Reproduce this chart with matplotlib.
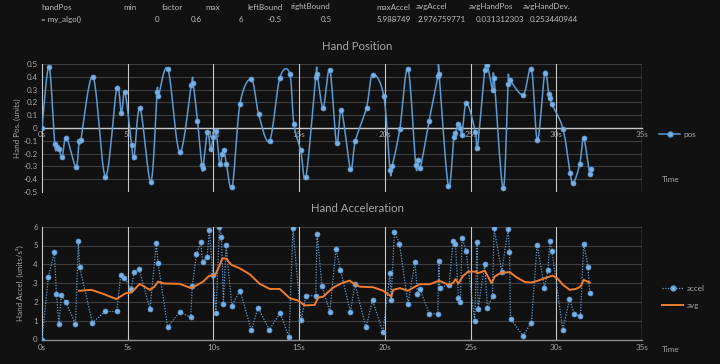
import matplotlib
matplotlib.use('Agg')
import matplotlib.pyplot as plt
import numpy as np
from matplotlib.lines import Line2D

# header cells (spreadsheet row above the charts)
header_names = ['handPos', 'min', 'factor', 'max', 'leftBound', 'rightBound',
                'maxAccel', 'avgAccel', 'avgHandPos', 'avgHandDev.']
header_values = ['= my_algo()', '0', '0.6', '6', '-0.5', '0.5',
                 '5.988749', '2.976759771', '0.031312303', '0.253440944']

# hand position samples (s, units)
pos_t = [0, 0.41, 0.74, 0.88, 0.99, 1.17, 1.42, 1.98, 2.16, 2.26, 2.98, 3.7, 4.36, 4.63, 4.84,
         5.23, 5.37, 5.72, 6.35, 6.71, 6.79, 7.35, 8.03, 8.71, 8.81, 9.07, 9.32, 9.39, 9.65,
         9.84, 9.99, 10.15, 10.37, 10.52, 10.62, 10.76, 11.1, 11.55, 12.22, 12.64, 13.28,
         13.87, 14.45, 14.69, 15.09, 15.4, 15.97, 16.05, 16.4, 16.79, 17.18, 17.47, 17.99,
         18.28, 18.93, 19.28, 19.94, 20.3, 20.42, 20.87, 21.35, 21.8, 21.93, 22.07, 22.58,
         23.1, 23.16, 23.7, 24.02, 24.12, 24.27, 24.41, 24.5, 24.76, 25.28, 25.4, 25.83,
         25.98, 26.28, 26.37, 26.9, 27.19, 27.29, 28.07, 28.55, 28.9, 29.33, 29.55, 29.62,
         29.75, 30.4, 30.8, 31.0, 31.37, 31.6, 31.95, 32.05]
pos_v = [0, 0.48, -0.127, -0.15, -0.165, -0.226, -0.075, -0.305, -0.104, -0.096, 0.40, -0.38,
         0.31, 0.12, 0.28, -0.135, -0.23, 0.157, -0.42, 0.28, 0.25, 0.46, -0.19, 0.335, 0.355,
         0.055, -0.286, -0.31, -0.03, -0.166, -0.07, -0.02, -0.28, -0.205, -0.175, -0.28,
         -0.46, 0.19, 0.38, 0.107, -0.10, 0.39, 0.425, 0.034, -0.174, -0.38, 0.40, 0.42, 0.16,
         0.455, -0.12, 0.138, -0.317, -0.10, 0.16, 0.417, 0.248, -0.33, -0.30, -0.01, 0.464,
         -0.29, -0.25, -0.31, 0.055, 0.405, 0.425, -0.45, -0.07, -0.04, 0.03, 0.003, -0.057,
         0.198, -0.03, -0.153, 0.455, 0.49, 0.30, 0.394, -0.47, 0.347, 0.373, 0.26, 0.464,
         -0.096, 0.433, 0.263, 0.234, 0.185, -0.01, -0.35, -0.43, -0.28, -0.08, -0.36, -0.32]

# hand acceleration samples (s, units/s^2)
acc_t = [0, 0.37, 0.72, 0.84, 0.99, 1.13, 1.4, 1.95, 2.12, 2.2, 2.94, 3.68, 4.36, 4.59, 4.81,
         5.22, 5.37, 5.66, 6.3, 6.67, 6.77, 7.33, 8.03, 8.67, 8.77, 9.01, 9.26, 9.37, 9.63,
         9.77, 9.96, 10.15, 10.35, 10.47, 10.58, 10.74, 11.07, 11.55, 12.22, 12.6, 13.26,
         13.89, 14.41, 14.64, 15.11, 15.4, 15.97, 16.04, 16.34, 16.79, 17.15, 17.41, 17.99,
         18.26, 18.9, 19.28, 19.89, 20.3, 20.36, 20.56, 20.85, 21.35, 21.76, 21.9, 22.05,
         22.58, 23.09, 23.15, 23.19, 23.75, 23.98, 24.12, 24.29, 24.41, 24.5, 24.74, 25.24,
         25.38, 25.44, 25.83, 25.98, 26.28, 26.37, 26.82, 27.19, 27.27, 27.33, 28.06, 28.55,
         28.88, 29.31, 29.52, 29.62, 29.75, 30.38, 30.77, 31.06, 31.41, 31.6, 31.85, 31.95]
acc_v = [0, 3.31, 4.64, 2.44, 0.82, 2.37, 1.97, 0.82, 5.24, 3.84, 0.89, 1.49, 1.49, 3.42, 3.29,
         2.69, 3.61, 3.77, 1.61, 5.12, 4.06, 0.67, 1.46, 1.19, 2.87, 4.55, 5.17, 4.13, 4.38,
         5.83, 3.44, 1.40, 5.97, 5.47, 1.91, 5.03, 1.79, 2.6, 0.48, 1.70, 0.52, 1.40, 0.14,
         5.92, 1.03, 2.34, 2.32, 5.63, 2.82, 1.47, 4.83, 3.69, 1.47, 2.94, 0.64, 2.09, 0.39,
         3.54, 2.09, 5.72, 5.1, 1.90, 4.13, 2.44, 2.69, 1.38, 1.36, 4.16, 2.76, 2.9, 5.24,
         5.08, 2.23, 2.0, 5.42, 4.71, 0.98, 5.2, 1.61, 4.02, 1.70, 2.29, 5.92, 3.61, 5.88,
         4.66, 1.10, 0.21, 0.90, 5.05, 2.76, 3.70, 5.24, 4.71, 0.52, 2.15, 1.33, 1.26, 5.1,
         3.86, 2.46]

# running average of acceleration
avg_t = [2.16, 2.88, 3.56, 4.34, 4.6, 4.88, 5.22, 5.7, 6.28, 6.55, 6.77, 7.1, 8.03, 8.71, 9.4,
         9.74, 10.1, 10.37, 10.52, 10.74, 11.05, 11.53, 12.12, 12.7, 13.28, 13.87, 14.45,
         14.94, 15.33, 15.91, 16.1, 16.4, 16.98, 17.56, 17.95, 18.3, 18.54, 19.31, 19.89,
         20.38, 20.48, 20.87, 21.35, 21.76, 22.04, 22.62, 23.16, 23.75, 24.0, 24.12, 24.29,
         24.56, 24.86, 25.34, 25.4, 25.83, 26.22, 26.41, 26.8, 27.29, 27.68, 28.16, 28.55,
         28.94, 29.33, 29.78, 30.05, 30.4, 30.79, 31.14, 31.41, 31.6, 31.95]
avg_v = [2.59, 2.64, 2.43, 2.15, 2.3, 2.46, 2.5, 2.96, 2.64, 2.8, 3.08, 2.98, 2.96, 2.73, 3.08,
         3.38, 3.43, 3.97, 4.32, 4.3, 3.97, 3.79, 3.47, 2.96, 2.69, 2.69, 2.2, 2.07, 1.81,
         1.84, 2.23, 2.28, 2.76, 3.03, 3.13, 2.9, 2.81, 2.78, 2.6, 2.28, 2.64, 2.73, 2.6, 2.81,
         2.94, 2.94, 3.13, 2.9, 3.03, 3.21, 2.98, 3.38, 3.61, 3.61, 3.52, 3.66, 3.0, 3.35,
         3.56, 3.58, 3.31, 3.06, 3.03, 3.13, 3.26, 3.4, 3.26, 2.9, 2.64, 2.69, 2.81, 3.17, 3.03]

x_ticks = np.arange(0, 36, 5)
x_ticklabels = [f'{t}s' for t in x_ticks]

BG = '#111111'
TXT = '#a6a6a6'
BLUE = '#5b9bd5'
MARK = '#7cb0e2'
ORANGE = '#ed7d31'
HGRID = '#3d3d3d'
VGRID = '#c8c8c8'
FS = 5.8

plt.rcParams['font.family'] = ['Lato', 'DejaVu Sans']


def smooth(x, y, n=12):
    """Catmull-Rom curve through the points, like Excel's smoothed line."""
    p = np.column_stack([x, y]).astype(float)
    p = np.vstack([p[0], p, p[-1]])
    out = []
    s = np.linspace(0, 1, n, endpoint=False)[:, None]
    for i in range(1, len(p) - 2):
        p0, p1, p2, p3 = p[i - 1], p[i], p[i + 1], p[i + 2]
        seg = 0.5 * ((2 * p1) + (-p0 + p2) * s + (2 * p0 - 5 * p1 + 4 * p2 - p3) * s ** 2
                     + (-p0 + 3 * p1 - 3 * p2 + p3) * s ** 3)
        out.append(seg)
    out.append(p[-2][None, :])
    out = np.vstack(out)
    return out[:, 0], out[:, 1]


def style_axes(ax, yticks):
    ax.set_facecolor(BG)
    ax.set_xlim(0, 35)
    ax.set_xticks(x_ticks)
    ax.set_xticklabels(x_ticklabels)
    ax.set_yticks(yticks)
    ax.tick_params(length=0, labelsize=FS, colors=TXT, pad=3)
    for y in yticks:
        ax.axhline(y, color=HGRID, lw=0.8, zorder=0)
    for x in x_ticks[1:-1]:
        ax.axvline(x, color=VGRID, lw=0.8, zorder=0.5)
    ax.axvline(35, color='#808080', lw=1.0, zorder=0.5)
    for side in ['top', 'right']:
        ax.spines[side].set_visible(False)
    ax.spines['left'].set_color(VGRID)
    ax.spines['left'].set_linewidth(0.8)
    ax.spines['bottom'].set_linewidth(1.0)


fig = plt.figure(figsize=(7.2, 3.64), dpi=100, facecolor=BG)
W, H = 720.0, 364.0

# header rows
name_x = [41, 123, 162, 205, 247, 290, 376, 416, 469, 523]
value_x = [41, 155, 191, 239, 268, 321, 377, 418, 476, 530]
for name, xn in zip(header_names, name_x):
    fig.text(xn / W, 1 - 7 / H, name, color='#bdbdbd', fontsize=FS, va='center')
for val, xv in zip(header_values, value_x):
    fig.text(xv / W, 1 - 19 / H, val, color='#bdbdbd', fontsize=FS, va='center')

# --- Hand Position ---
ax1 = fig.add_axes([42 / W, 1 - 192 / H, 600 / W, 128 / H])
style_axes(ax1, np.round(np.arange(-0.5, 0.51, 0.1), 1))
ax1.set_ylim(-0.5, 0.5)
ax1.set_yticklabels(['-0.5', '-0.4', '-0.3', '-0.2', '-0.1', '0', '0.1', '0.2', '0.3', '0.4', '0.5'])
ax1.spines['bottom'].set_position(('data', 0))
ax1.spines['bottom'].set_color(VGRID)
ax1.tick_params(axis='x', pad=2)
sx, sy = smooth(pos_t, pos_v)
ax1.plot(sx, sy, color=BLUE, lw=1.1, zorder=3)
ax1.plot(pos_t, pos_v, ls='none', marker='o', ms=3.6, mfc=MARK, mec=BLUE, mew=0.5, zorder=4)

fig.text(357 / W, 1 - 46 / H, 'Hand Position', color=TXT, fontsize=8.2, ha='center', va='center')
fig.text(17 / W, 1 - 128 / H, 'Hand Pos. (units)', color=TXT, fontsize=FS, rotation=90,
         ha='center', va='center')
fig.text(662 / W, 1 - 179 / H, 'Time', color=TXT, fontsize=FS, va='center')
fig.legend([Line2D([], [], color=BLUE, lw=1.1, marker='o', ms=3.6, mfc=MARK, mec=BLUE)],
           ['pos'], loc='center left', bbox_to_anchor=(652 / W, 1 - 134 / H), frameon=False,
           fontsize=FS, labelcolor=TXT, handlelength=2.6, handletextpad=0.4)

# --- Hand Acceleration ---
ax2 = fig.add_axes([42 / W, 1 - 339.5 / H, 600 / W, 112.8 / H])
style_axes(ax2, np.arange(0, 7, 1))
ax2.set_ylim(0, 6)
ax2.spines['bottom'].set_color('#8c8c8c')
ax2.plot(acc_t, acc_v, color=BLUE, lw=0.9, ls=(0, (1, 1.2)), marker='o', ms=3.6,
         mfc=MARK, mec=BLUE, mew=0.5, zorder=3)
ax2.plot(avg_t, avg_v, color=ORANGE, lw=1.4, zorder=4)

fig.text(357 / W, 1 - 209 / H, 'Hand Acceleration', color=TXT, fontsize=8.2, ha='center', va='center')
fig.text(20 / W, 1 - 283 / H, 'Hand Accel. (units/s²)', color=TXT, fontsize=FS, rotation=90,
         ha='center', va='center')
fig.text(662 / W, 1 - 349 / H, 'Time', color=TXT, fontsize=FS, va='center')
fig.legend([Line2D([], [], color=BLUE, lw=0.9, ls=(0, (1, 1.2)), marker='o', ms=3.6, mfc=MARK, mec=BLUE),
            Line2D([], [], color=ORANGE, lw=1.4)],
           ['accel', 'avg'], loc='center left', bbox_to_anchor=(655 / W, 1 - 297 / H), frameon=False,
           fontsize=FS, labelcolor=TXT, handlelength=2.6, handletextpad=0.4, labelspacing=1.2)

fig.savefig('out.png', dpi=100, facecolor=BG)
